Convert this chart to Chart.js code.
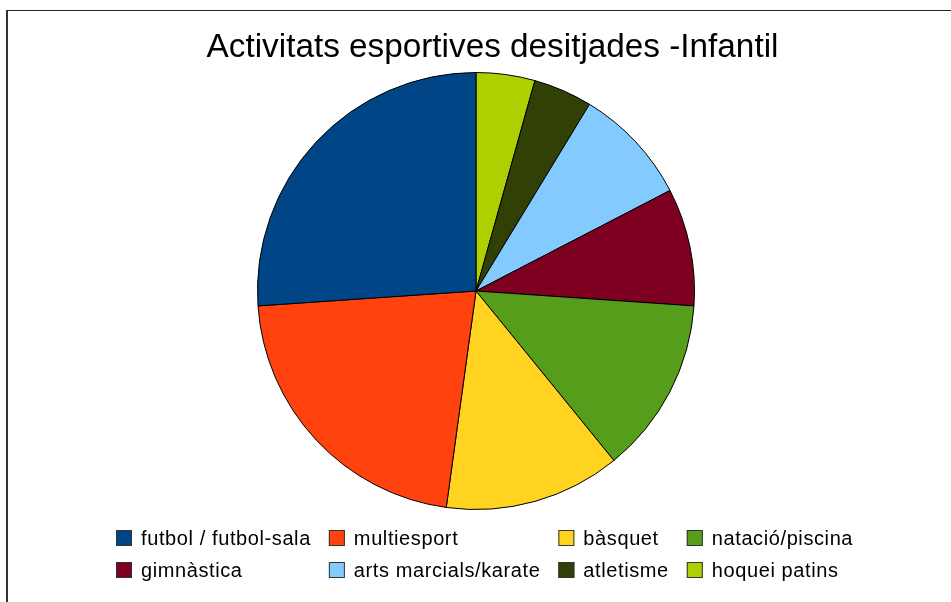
<!DOCTYPE html>
<html>
<head>
<meta charset="utf-8">
<script src="https://cdn.jsdelivr.net/npm/chart.js@4/dist/chart.umd.min.js"></script>
<style>
  html, body { margin: 0; padding: 0; background: #fff; }
  #wrap { position: relative; width: 951px; height: 602px; }
  #frame { position: absolute; left: 6px; top: 10px; right: 0; bottom: 0;
           border-top: 1px solid #222; border-left: 2px solid #333; }
  #canvas1 { position: absolute; left: 0; top: 0; }
</style>
</head>
<body>
<div id="wrap">
  <div id="frame"></div>
  <canvas id="canvas1" width="951" height="602"></canvas>
</div>
<script>
"use strict";

// legend order (as in the original chart)
const labels = ["futbol / futbol-sala", "multiesport", "bàsquet", "natació/piscina",
                "gimnàstica", "arts marcials/karate", "atletisme", "hoquei patins"];
const counts = [6, 5, 3, 3, 2, 2, 1, 1];
const colors = ["#004586", "#ff420e", "#ffd320", "#579d1c",
                "#7e0021", "#83caff", "#314004", "#aecf00"];
const titleText = "Activitats esportives desitjades -Infantil";

{
    let canvas1 = document.querySelector("#canvas1");

    // the original draws slices counter-clockwise from 12 o'clock,
    // chart.js goes clockwise, so feed it reversed
    let rl = labels.slice().reverse();
    let rv = counts.slice().reverse();
    let rc = colors.slice().reverse();

    let font = "'Liberation Sans', Arial, sans-serif";

    //title + legend drawn by hand so the grid matches
    let deco = {
        id: "deco",
        afterDraw(chart) {
            let ctx = chart.ctx;
            ctx.save();
            ctx.fillStyle = "#000";
            ctx.textBaseline = "alphabetic";
            ctx.textAlign = "center";
            ctx.font = "33.3px " + font;
            ctx.fillText(titleText, 492.5, 57);

            ctx.font = "20px " + font;
            ctx.letterSpacing = "0.6px";
            ctx.textAlign = "left";
            ctx.textBaseline = "middle";
            let cols = 4;
            let colW = [];
            for (let c = 0; c < cols; c++) {
                let w = 0;
                for (let i = c; i < labels.length; i += cols) {
                    w = Math.max(w, ctx.measureText(labels[i]).width);
                }
                colW.push(w);
            }
            let x0 = 116;
            let y0 = 530;
            for (let i = 0; i < labels.length; i++) {
                let c = i % cols;
                let r = Math.floor(i / cols);
                let x = x0;
                for (let k = 0; k < c; k++) x += 16 + 9 + colW[k] + 18;
                let y = y0 + r * 32;
                ctx.fillStyle = colors[i];
                ctx.fillRect(x, y, 16, 16);
                ctx.strokeStyle = "#333";
                ctx.lineWidth = 1;
                ctx.strokeRect(x + 0.5, y + 0.5, 15, 15);
                ctx.fillStyle = "#000";
                ctx.fillText(labels[i], x + 25, y + 9);
            }
            ctx.restore();
        }
    };

    let opts = {
        type: "pie",
        data: {
            labels: rl,
            datasets: [{
                data: rv,
                backgroundColor: rc,
                borderColor: "#000",
                borderWidth: 1
            }]
        },
        options: {
            responsive: false,
            animation: false,
            layout: { padding: { left: 257, right: 256, top: 72, bottom: 92 } },
            plugins: {
                legend: { display: false },
                title: { display: false },
                tooltip: { enabled: false }
            }
        },
        plugins: [deco]
    };
    let c1 = new Chart(canvas1, opts);
}
</script>
</body>
</html>
